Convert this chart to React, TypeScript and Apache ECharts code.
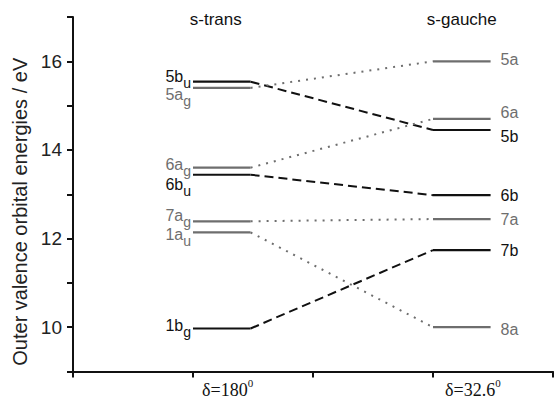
import React, { useEffect, useRef } from 'react';
import * as echarts from 'echarts';

// ---- data ----
const conformerX = [1, 3];
const conformerTitles = ['s-trans', 's-gauche'];
const conformerAngles = ['180', '32.6'];

// s-trans orbitals (name + symmetry subscript) and energies / eV
const transOrbitals = ['5b', '5a', '6a', '6b', '7a', '1a', '1b'];
const transSymmetry = ['u', 'g', 'g', 'u', 'g', 'u', 'g'];
const transEnergies = [15.54, 15.4, 13.6, 13.44, 12.39, 12.14, 9.97];

// correlated s-gauche orbitals (same order as s-trans)
const gaucheOrbitals = ['5b', '5a', '6a', '6b', '7a', '8a', '7b'];
const gaucheEnergies = [14.45, 16.0, 14.7, 12.98, 12.44, 10.0, 11.74];

const yTickLabels = [10, 12, 14, 16];

// ---- styling ----
const LEVEL_W = 0.48;
const BLACK = '#111111';
const GRAY = '#6e6e6e';
const SANS = 'Liberation Sans';
const SERIF = 'Liberation Serif';
const transLabelNudge = [-5, 7, -3, 10, -5.5, 2, -3];
const gaucheLabelNudge = [7, -1.5, -6, 0, 0, 2.5, 0];
const titleNudge = [-6, 0];

const colorOf = (name: string) => (name.charAt(1) === 'b' ? BLACK : GRAY);

const levelData = [
  ...transEnergies.map((e) => [conformerX[0], e]),
  ...gaucheEnergies.map((e) => [conformerX[1], e]),
];
const levelMeta = [
  ...transOrbitals.map((n, i) => ({ side: 0, name: n, sub: transSymmetry[i], nudge: transLabelNudge[i] })),
  ...gaucheOrbitals.map((n, i) => ({ side: 1, name: n, sub: '', nudge: gaucheLabelNudge[i] })),
];
const linkData = transEnergies.map((e, i) => [conformerX[0] + LEVEL_W, e, conformerX[1], gaucheEnergies[i]]);

export default function App() {
  const ref = useRef<HTMLDivElement>(null);
  useEffect(() => {
    const chart = echarts.init(ref.current!, null, { renderer: 'svg' });
    const option: any = {
      animation: false,
      grid: { left: 73, right: 0, top: 17, bottom: 29 },
      xAxis: {
        type: 'value',
        min: 0,
        max: 4,
        interval: 1,
        splitLine: { show: false },
        axisLine: { show: true, onZero: false, lineStyle: { color: BLACK, width: 2 } },
        axisTick: { show: true, inside: false, length: 6, lineStyle: { color: BLACK, width: 2 } },
        axisLabel: {
          margin: 8,
          align: 'left',
          formatter: (v: number) => {
            const k = conformerX.indexOf(v);
            if (k < 0) return '';
            return `{d${k}|δ=${conformerAngles[k]}}{s|0}`;
          },
          rich: {
            d0: { fontFamily: SERIF, fontSize: 18, lineHeight: 20, color: BLACK, padding: [0, 0, 0, 9] },
            d1: { fontFamily: SERIF, fontSize: 18, lineHeight: 20, color: BLACK, padding: [0, 0, 0, 12] },
            s: { fontFamily: SERIF, fontSize: 11, lineHeight: 12, color: BLACK, padding: [0, 0, 14, 0] },
          },
        },
      },
      yAxis: {
        type: 'value',
        min: 9,
        max: 17,
        interval: 1,
        splitLine: { show: false },
        name: 'Outer valence orbital energies / eV',
        nameLocation: 'middle',
        nameGap: 43,
        nameTextStyle: { fontFamily: SANS, fontSize: 20, color: '#222', padding: [0, 35, 0, 0] },
        axisLine: { show: true, onZero: false, lineStyle: { color: BLACK, width: 2 } },
        axisTick: { show: true, length: 6, lineStyle: { color: BLACK, width: 2 } },
        axisLabel: {
          margin: 11,
          fontFamily: SANS,
          fontSize: 19,
          color: '#222',
          formatter: (v: number) => (yTickLabels.indexOf(v) >= 0 ? String(v) : ''),
        },
      },
      series: [
        {
          type: 'custom',
          name: 'correlation',
          clip: false,
          encode: { x: [0, 2], y: [1, 3] },
          data: linkData,
          renderItem: (params: any, api: any) => {
            const i = params.dataIndex;
            const a = api.coord([api.value(0), api.value(1)]);
            const b = api.coord([api.value(2), api.value(3)]);
            const black = colorOf(transOrbitals[i]) === BLACK;
            return {
              type: 'line',
              shape: { x1: a[0], y1: a[1], x2: b[0], y2: b[1] },
              style: {
                stroke: black ? BLACK : GRAY,
                lineWidth: 2,
                lineDash: black ? [9, 5] : [2, 6],
                fill: null,
              },
            };
          },
        },
        {
          type: 'custom',
          name: 'levels',
          clip: false,
          encode: { x: 0, y: 1 },
          data: levelData,
          renderItem: (params: any, api: any) => {
            const m = levelMeta[params.dataIndex];
            const x = api.value(0);
            const e = api.value(1);
            const p0 = api.coord([x, e]);
            const p1 = api.coord([x + LEVEL_W, e]);
            const color = colorOf(m.name);
            const text = m.sub ? `{m|${m.name}}{s|${m.sub}}` : `{m|${m.name}}`;
            return {
              type: 'group',
              children: [
                {
                  type: 'line',
                  shape: { x1: p0[0], y1: p0[1], x2: p1[0], y2: p1[1] },
                  style: { stroke: color, lineWidth: 2.2 },
                },
                {
                  type: 'text',
                  x: m.side === 0 ? p0[0] - 2 : p1[0] + 10,
                  y: p0[1] + m.nudge,
                  style: {
                    text,
                    fill: color,
                    align: m.side === 0 ? 'right' : 'left',
                    verticalAlign: 'middle',
                    rich: {
                      m: { fontFamily: SANS, fontSize: 16, lineHeight: 18, fill: color },
                      s: { fontFamily: SANS, fontSize: 14, lineHeight: 15, fill: color, padding: [13, 0, 0, 0] },
                    },
                  },
                },
              ],
            };
          },
        },
      ],
    };
    chart.setOption(option);
    const graphics = conformerTitles.map((t, k) => {
      const px = chart.convertToPixel({ gridIndex: 0 }, [conformerX[k] + LEVEL_W / 2, 16]) as number[];
      return {
        type: 'text',
        x: px[0] + titleNudge[k],
        y: 19,
        style: { text: t, fontFamily: SANS, fontSize: 17, fill: BLACK, align: 'center', verticalAlign: 'middle' },
      };
    });
    chart.setOption({ graphic: graphics });
    return () => chart.dispose();
  }, []);
  return <div ref={ref} style={{ position: 'absolute', left: 0, top: 0, width: 556, height: 402 }} />;
}
